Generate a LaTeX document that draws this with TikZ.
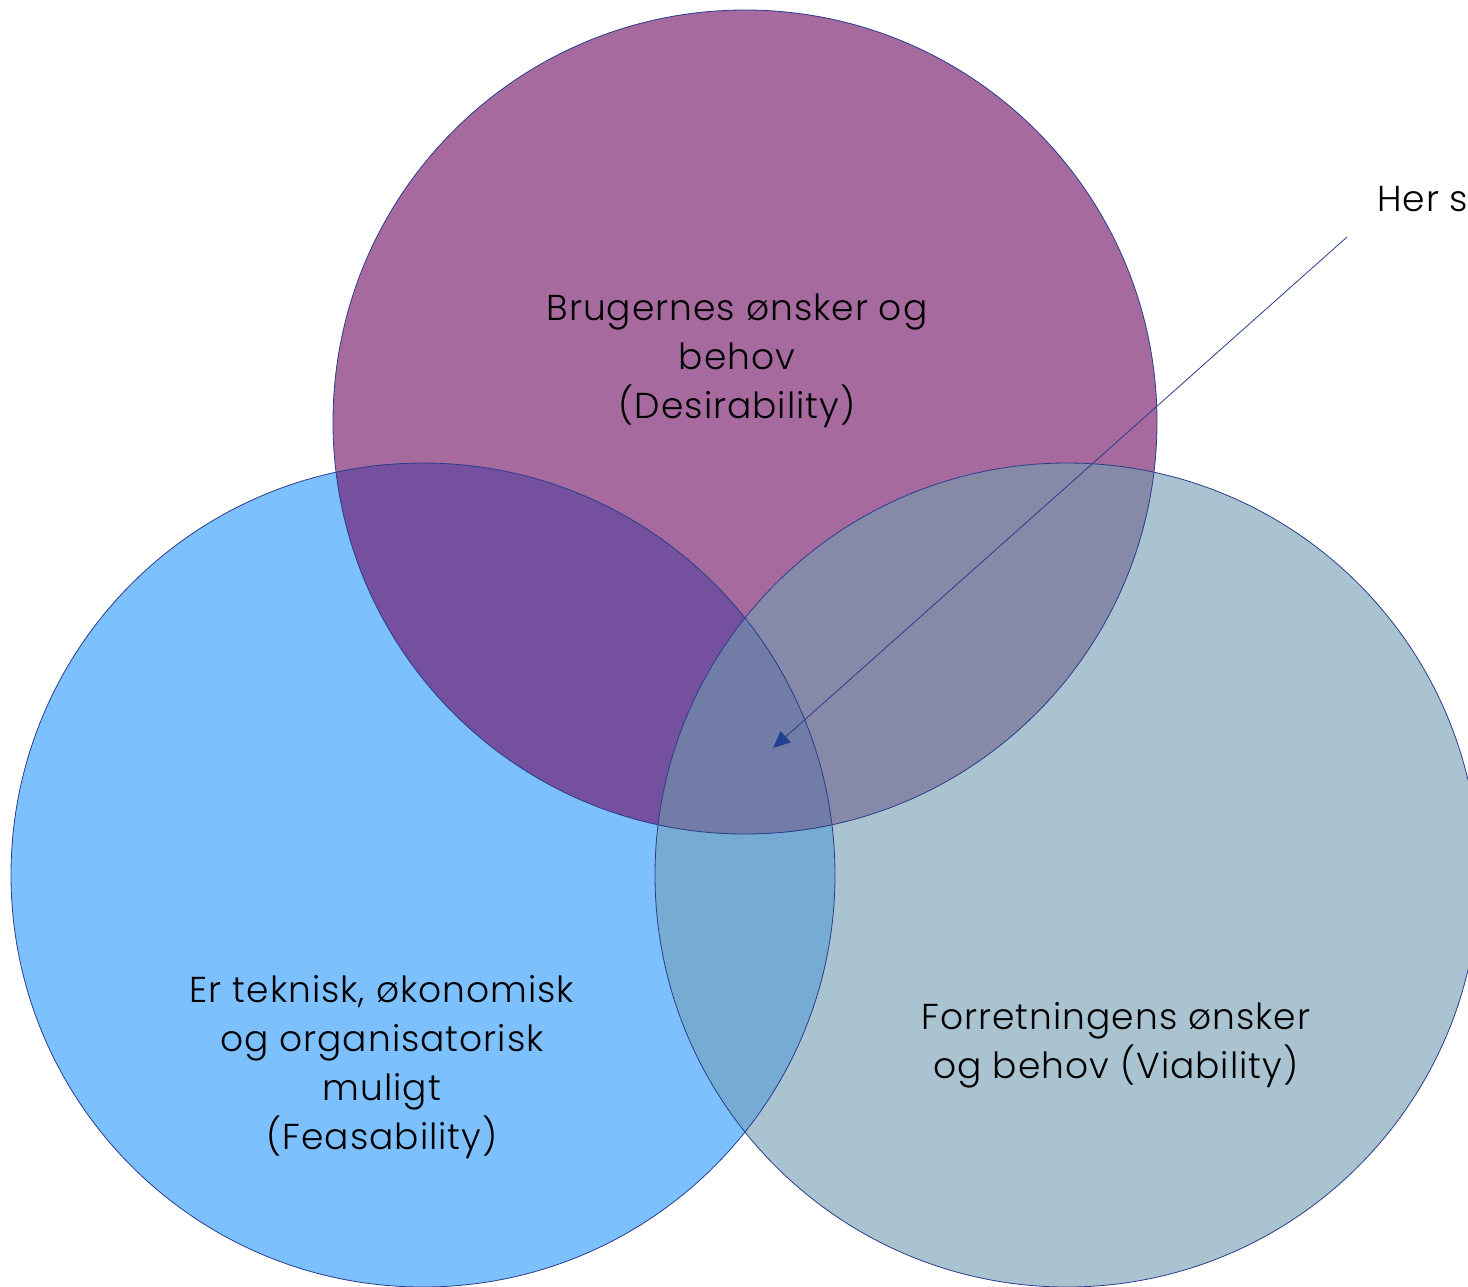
\documentclass[tikz,border=0pt]{standalone}
\usepackage{fontspec}
\setmainfont{Poppins}[UprightFont={* Light}, LetterSpace=2.8]
\usetikzlibrary{arrows.meta}
\definecolor{cT}{HTML}{A66A9E}
\definecolor{cL}{HTML}{7CC0FD}
\definecolor{cR}{HTML}{A9C4D0}
\definecolor{cTL}{HTML}{74509E}
\definecolor{cTR}{HTML}{8789A8}
\definecolor{cLR}{HTML}{76ACD3}
\definecolor{cC}{HTML}{717DA6}
\definecolor{edge}{HTML}{2A3C8C}
\definecolor{arr}{HTML}{1F4392}
\tikzset{
  ring/.style={draw=edge, line width=0.8pt},
  lbl/.style={align=center, font=\fontsize{36}{49}\selectfont, text=black, inner sep=0pt},
}
\begin{document}
\begin{tikzpicture}[x=1pt,y=-1pt]
\useasboundingbox (0,0) rectangle (1468,1286);
\coordinate (T) at (745,422);
\coordinate (L) at (423,875);
\coordinate (R) at (1067,875);
\def\rad{412pt}
% base fills
\fill[cT] (T) circle[radius=\rad];
\fill[cL] (L) circle[radius=\rad];
\fill[cR] (R) circle[radius=\rad];
% pairwise overlaps
\begin{scope}\clip (L) circle[radius=\rad]; \fill[cLR] (R) circle[radius=\rad];\end{scope}
\begin{scope}\clip (T) circle[radius=\rad]; \fill[cTL] (L) circle[radius=\rad]; \fill[cTR] (R) circle[radius=\rad];\end{scope}
\begin{scope}\clip (T) circle[radius=\rad]; \clip (L) circle[radius=\rad]; \fill[cC] (R) circle[radius=\rad];\end{scope}
% outlines
\draw[ring] (T) circle[radius=\rad];
\draw[ring] (L) circle[radius=\rad];
\draw[ring] (R) circle[radius=\rad];
% labels
\node[lbl] (desir) at (737,361) {Brugernes ønsker og\\behov\\(Desirability)};
\node[lbl] (feas) at (382,1067) {Er teknisk, økonomisk\\og organisatorisk\\muligt\\(Feasability)};
\node[lbl] (viab) at (1116,1045) {Forretningens ønsker\\og behov (Viability)};
\node[lbl, anchor=west] (her) at (1377,199) {Her s};
% arrow
\coordinate (a0) at (1347,237);
\coordinate (a1) at (773,748);
\draw[draw=edge, line width=0.8pt, -{Triangle[length=17pt,width=15pt,fill=arr]}] (a0) -- (a1);
\end{tikzpicture}
\end{document}
